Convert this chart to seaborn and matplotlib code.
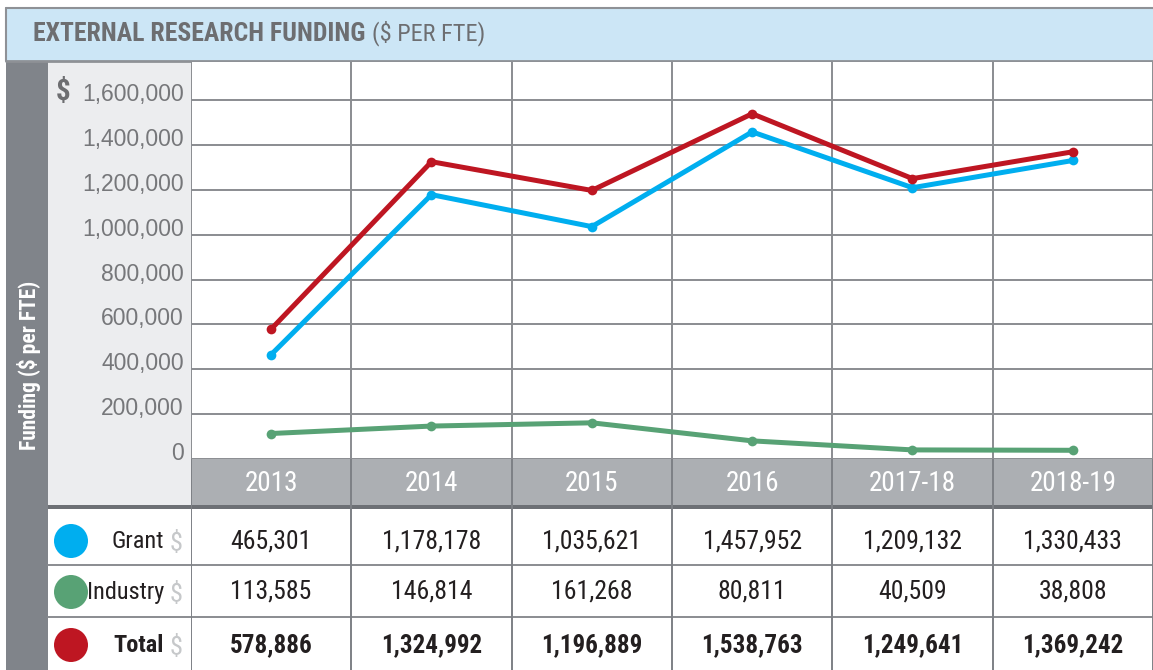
import numpy as np
import pandas as pd
import seaborn as sns
import matplotlib.pyplot as plt
import matplotlib.transforms as mtransforms
from matplotlib import font_manager as fm
from matplotlib.patches import Rectangle, Circle

# data
years = ['2013', '2014', '2015', '2016', '2017-18', '2018-19']
grant = [465301, 1178178, 1035621, 1457952, 1209132, 1330433]
industry = [113585, 146814, 161268, 80811, 40509, 38808]
total = [578886, 1324992, 1196889, 1538763, 1249641, 1369242]
series_names = ['Grant', 'Industry', 'Total']
yticks = [0, 200000, 400000, 600000, 800000, 1000000, 1200000, 1400000, 1600000]

colors = {'Grant': '#00aeef', 'Industry': '#58a275', 'Total': '#be1622'}
GRAY_TXT = '#6d6e71'
GRID = '#8a8c90'


def cond_font(weight='normal', size=15):
    # pick the static Roboto Condensed files so the weight is unambiguous
    target = {'normal': 'RobotoCondensed-Regular.ttf', 'bold': 'RobotoCondensed-Bold.ttf'}[weight]
    for f in fm.fontManager.ttflist:
        if f.fname.endswith(target):
            return fm.FontProperties(fname=f.fname, size=size)
    return fm.FontProperties(family=['Liberation Sans', 'DejaVu Sans'], weight=weight, size=size)


def sans_font(weight='normal', size=15):
    return fm.FontProperties(family=['Liberation Sans', 'DejaVu Sans'], weight=weight, size=size)


df = pd.DataFrame({
    'year': years * 3,
    'series': sum([[s] * len(years) for s in series_names], []),
    'value': grant + industry + total,
})

sns.set_theme(style='white')
plt.rcParams['font.family'] = ['Liberation Sans', 'DejaVu Sans']

W, H = 1153, 670
fig = plt.figure(figsize=(W / 100, H / 100), dpi=100)

# background / frame (pixel coordinates)
bg = fig.add_axes([0, 0, 1, 1], zorder=0)
bg.set_xlim(0, W)
bg.set_ylim(H, 0)
bg.axis('off')
bg.add_patch(Rectangle((6, 8), W, 53, fc='#cce6f6', ec='none'))
bg.plot([6, W], [8, 8], color='#8e9196', lw=1.5)
bg.plot([6, W], [61, 61], color='#8e9196', lw=2)
bg.plot([6, 6], [8, 61], color='#8e9196', lw=1.5)
bg.add_patch(Rectangle((6, 61), 42, H - 61, fc='#80848a', ec='none'))
bg.add_patch(Rectangle((48, 61), 143, 444, fc='#ecedef', ec='none'))
bg.add_patch(Rectangle((48, 505), 143, 4, fc='#6d7075', ec='none'))
for yy in [565, 617]:
    bg.plot([48, 191], [yy, yy], color=GRID, lw=1.4)

title = bg.text(33, 41, 'EXTERNAL RESEARCH FUNDING', fontproperties=cond_font('bold', 18.5),
                color=GRAY_TXT, va='baseline', ha='left')
bg.annotate('($ PER FTE)', xy=(1, 0), xycoords=title, xytext=(5, 0),
            textcoords='offset points', fontproperties=cond_font('normal', 17.5),
            color=GRAY_TXT, va='bottom', ha='left')
bg.text(63, 92, '$', fontproperties=cond_font('bold', 21), color=GRAY_TXT,
        ha='center', va='center')
bg.text(29, 365, 'Funding ($ per FTE)', rotation=90, fontproperties=cond_font('bold', 15.5),
        color='white', ha='center', va='center')

row_y = [541, 592, 645]
for name, yy in zip(series_names, row_y):
    bg.add_patch(Circle((71, yy), 17, fc=colors[name], ec='none'))
    bg.text(164, yy, name, fontproperties=cond_font('bold' if name == 'Total' else 'normal', 17.5),
            ha='right', va='center', color='#231f20')
    bg.text(176, yy + 2, '$', fontproperties=cond_font('normal', 19), ha='center',
            va='center', color='#c6c8ca')

# main line chart
x0 = 191
col_w = 162
xmax = 5.5 - (x0 + 6 * col_w - W) / col_w
ytop = 1600000 * (459 - 62) / (459 - 100)

ax = fig.add_axes([x0 / W, 1 - 459 / H, (W - x0) / W, (459 - 62) / H], zorder=2)
sns.lineplot(data=df, x='year', y='value', hue='series', hue_order=series_names,
             palette=colors, marker='o', markersize=7, markeredgewidth=0,
             linewidth=3.6, sort=False, legend=False, ax=ax)
ax.set_xlim(-0.5, xmax)
ax.set_ylim(0, ytop)
ax.set_yticks(yticks)
ax.set_yticklabels([])
ax.set_xticks(range(len(years)))
ax.set_xticklabels([])
ax.set_xticks(np.arange(-0.5, len(years), 1), minor=True)
ax.tick_params(length=0, which='both')
ax.yaxis.grid(True, color=GRID, lw=1.4)
ax.xaxis.grid(True, which='minor', color=GRID, lw=1.4)
ax.set_axisbelow(True)
ax.set_xlabel('')
ax.set_ylabel('')
for sp in ax.spines.values():
    sp.set_visible(False)

lab_tr = mtransforms.offset_copy(ax.get_yaxis_transform(), fig=fig, x=-7, y=5.5, units='dots')
for v in yticks:
    ax.text(0, v, f'{v:,}', transform=lab_tr, ha='right', va='center',
            fontproperties=sans_font('normal', 16.5), color='#76777a', clip_on=False)

# category band + table, sharing the chart's x scale
tab = fig.add_axes([x0 / W, 0, (W - x0) / W, (H - 459) / H], zorder=1, sharex=ax)
tab.set_ylim(H, 459)
tab.axis('off')
tab.axhspan(459, 505, color='#acafb3', lw=0)
tab.axhspan(505, 509, color='#6d7075', lw=0)
for yy in [565, 617]:
    tab.axhline(yy, color=GRID, lw=1.4)
for i in range(len(years) + 1):
    tab.axvline(i - 0.5, color='#7d8085', lw=1.4)
for i, yr in enumerate(years):
    tab.text(i, 483, yr, color='white', fontproperties=cond_font('normal', 19.5),
             ha='center', va='center')
for vals, yy, bold in [(grant, row_y[0], False), (industry, row_y[1], False),
                       (total, row_y[2], True)]:
    for i, v in enumerate(vals):
        tab.text(i, yy, f'{v:,}', fontproperties=cond_font('bold' if bold else 'normal', 18.5 if not bold else 18),
                 ha='center', va='center', color='#231f20')

fig.savefig('out.png', dpi=100)
